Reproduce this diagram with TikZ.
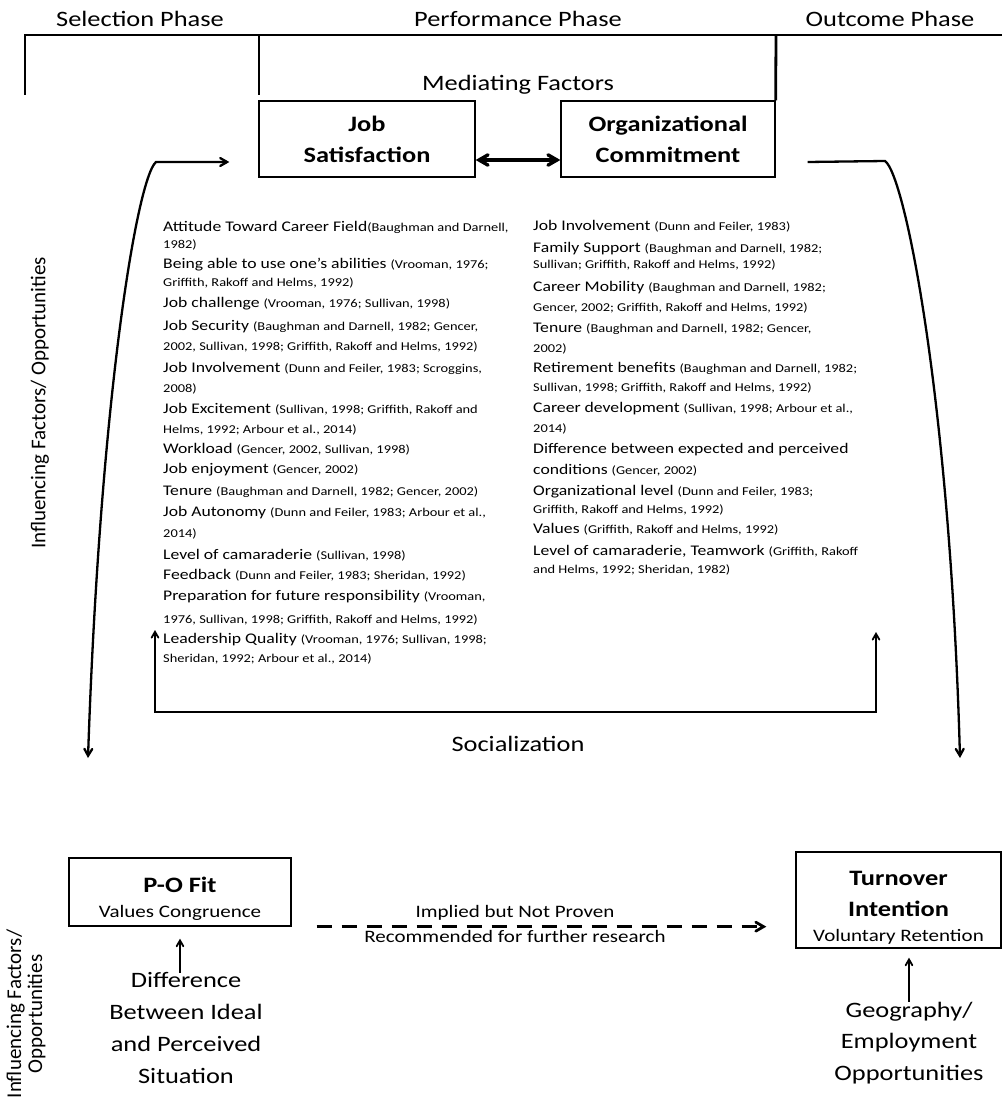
\documentclass[tikz,border=0pt]{standalone}
\usepackage{fontspec}
\setmainfont{Carlito}[FakeStretch=1.2]
\newfontfamily\sidefont{Carlito}
\usetikzlibrary{arrows}
\tikzstyle{phase}=[anchor=base,inner sep=0pt,font=\fontsize{22}{26}\selectfont]
\tikzstyle{factor}=[draw,line width=1.3pt,align=center,inner sep=0pt,font=\bfseries\fontsize{22}{31}\selectfont]
\tikzstyle{note}=[align=center,inner sep=0pt,font=\fontsize{22}{31.7}\selectfont]
\tikzstyle{item}=[anchor=base west,inner sep=0pt,font=\fontsize{14.7}{17}\selectfont]
\tikzstyle{side}=[rotate=90,align=center,inner sep=0pt,font=\sidefont\fontsize{21}{21}\selectfont]
\tikzstyle{bracket}=[draw,line width=2.8pt]
\tikzstyle{flow}=[draw,line width=2.3pt,>=angle 60]
\tikzstyle{social}=[draw,line width=1.8pt,>=angle 60]
\tikzstyle{maybe}=[draw,line width=2.8pt,dash pattern=on 15pt off 10pt,>=angle 60]
\newcommand{\src}[1]{{\fontsize{12}{14}\selectfont #1}}
\newcommand{\lowstrut}{\rule{0pt}{29pt}}

\begin{document}
\begin{tikzpicture}[x=1pt,y=-1pt]
    \useasboundingbox (0,0) rectangle (1002,1099);
    % Phases and the bracket above the factors
    \foreach \pos/\name/\txt in {{(140,27)/selection/Selection Phase}, {(518,27)/performance/Performance Phase}, {(890,27)/outcome/Outcome Phase}}
        \node[phase] (\name) at \pos {\txt};
    \node[phase] (mediating) at (518,91) {Mediating Factors};

    % The two mediating factors
    \node[factor,minimum width=216pt,minimum height=76pt] (jobsat) at (367,139) {Job\\Satisfaction};
    \node[factor,minimum width=214pt,minimum height=76pt] (orgcom) at (668,139) {Organizational\\Commitment};

    \draw[bracket] (25,95) -- (25,35) -- (1002,35);
    \draw[bracket] (259,36) -- (259,95);
    \draw[bracket] (776,36) -- (orgcom.north east);
    \draw[flow,<->,line width=3.4pt] ([yshift=-21pt]jobsat.east) -- ([yshift=-21pt]orgcom.west);

    % Influencing factors of each
    \foreach \y/\txt [count=\i] in {232/{Attitude Toward Career Field\src{(Baughman and Darnell,}}, 248/{\src{1982)}},
        269/{Being able to use one’s abilities \src{(Vrooman, 1976;}}, 286/{\src{Griffith, Rakoff and Helms, 1992)}},
        307/{Job challenge \src{(Vrooman, 1976; Sullivan, 1998)}},
        330/{Job Security \src{(Baughman and Darnell, 1982; Gencer,}}, 350/{\src{2002, Sullivan, 1998; Griffith, Rakoff and Helms, 1992)}},
        372/{Job Involvement \src{(Dunn and Feiler, 1983; Scroggins,}}, 392/{\src{2008)}},
        413/{Job Excitement \src{(Sullivan, 1998; Griffith, Rakoff and}}, 433/{\src{Helms, 1992; Arbour et al., 2014)}},
        453/{Workload \src{(Gencer, 2002, Sullivan, 1998)}},
        473/{Job enjoyment \src{(Gencer, 2002)}},
        495/{Tenure \src{(Baughman and Darnell, 1982; Gencer, 2002)}},
        516/{Job Autonomy \src{(Dunn and Feiler, 1983; Arbour et al.,}}, 537/{\src{2014)}},
        559/{Level of camaraderie \src{(Sullivan, 1998)}},
        579/{Feedback \src{(Dunn and Feiler, 1983; Sheridan, 1992)}},
        600/{Preparation for future responsibility \src{(Vrooman,}}, 623/{\src{1976, Sullivan, 1998; Griffith, Rakoff and Helms, 1992)}},
        643/{Leadership Quality \src{(Vrooman, 1976; Sullivan, 1998;}}, 662/{\src{Sheridan, 1992; Arbour et al., 2014)}}}
        \node[item] (sat\i) at (163,\y) {\txt};

    \foreach \y/\txt [count=\i] in {231/{Job Involvement \src{(Dunn and Feiler, 1983)}},
        252/{Family Support \src{(Baughman and Darnell, 1982;}}, 268/{\src{Sullivan; Griffith, Rakoff and Helms, 1992)}},
        291/{Career Mobility \src{(Baughman and Darnell, 1982;}}, 311/{\src{Gencer, 2002; Griffith, Rakoff and Helms, 1992)}},
        332/{Tenure \src{(Baughman and Darnell, 1982; Gencer,}}, 352/{\src{2002)}},
        372/{Retirement benefits \src{(Baughman and Darnell, 1982;}}, 391/{\src{Sullivan, 1998; Griffith, Rakoff and Helms, 1992)}},
        412/{Career development \src{(Sullivan, 1998; Arbour et al.,}}, 432/{\src{2014)}},
        453/{Difference between expected and perceived}, 474/{conditions \src{(Gencer, 2002)}},
        495/{Organizational level \src{(Dunn and Feiler, 1983;}}, 513/{\src{Griffith, Rakoff and Helms, 1992)}},
        533/{Values \src{(Griffith, Rakoff and Helms, 1992)}},
        555/{Level of camaraderie, Teamwork \src{(Griffith, Rakoff}}, 573/{\src{and Helms, 1992; Sheridan, 1982)}}}
        \node[item] (com\i) at (533,\y) {\txt};

    % Side labels
    \node[side] (influence) at (40,403) {Influencing Factors/ Opportunities};
    \node[side] (influence2) at (26,1014) {Influencing Factors/\\Opportunities};

    % Loops back to the phases
    \coordinate (ldrop) at (88,758);
    \coordinate (rdrop) at (960,758);
    \draw[flow,<->] ([xshift=-29pt,yshift=-23pt]jobsat.west) -- (156,162) .. controls (137,178) and (100,400) .. (ldrop);
    \draw[flow,->] ([xshift=32pt,yshift=-23pt]orgcom.east) -- (885,161) .. controls (905,175) and (950,400) .. (rdrop);

    % Socialization
    \coordinate (socl) at (155,630);
    \coordinate (socr) at (876,632);
    \coordinate (socbase) at (515,712);
    \draw[social,<->] (socl) |- (socbase) -| (socr);
    \node[phase] (socialization) at (518,751) {Socialization};

    % Outcomes
    \node[factor,minimum width=222pt,minimum height=68pt] (pofit) at (180,892) {\lowstrut P-O Fit\\[-6pt]{\mdseries\fontsize{17.5}{21}\selectfont Values Congruence}};
    \node[factor,minimum width=205pt,minimum height=96pt] (turnover) at (898.5,900) {\lowstrut Turnover\\Intention\\[-6pt]{\mdseries\fontsize{17.5}{21}\selectfont Voluntary Retention}};
    \node[note] (diff) at (186,1028) {Difference\\Between Ideal\\and Perceived\\Situation};
    \node[note] (geo) at (909,1043) {Geography/\\Employment\\Opportunities};

    \draw[flow,->,line width=1.8pt,shorten >=12pt] (pofit.south |- diff.north) -- (pofit.south);
    \draw[flow,->,line width=1.8pt,shorten >=9pt] (geo.north) -- (geo.north |- turnover.south);
    \draw[maybe,->,shorten <=25pt,shorten >=29pt] (pofit.south east) -- (turnover.west |- pofit.south east);
    \node[phase,font=\fontsize{17.5}{21}\selectfont] (implied) at (515,917) {Implied but Not Proven};
    \node[phase,font=\fontsize{17.5}{21}\selectfont] (recommend) at (515,942) {Recommended for further research};
\end{tikzpicture}
\end{document}
